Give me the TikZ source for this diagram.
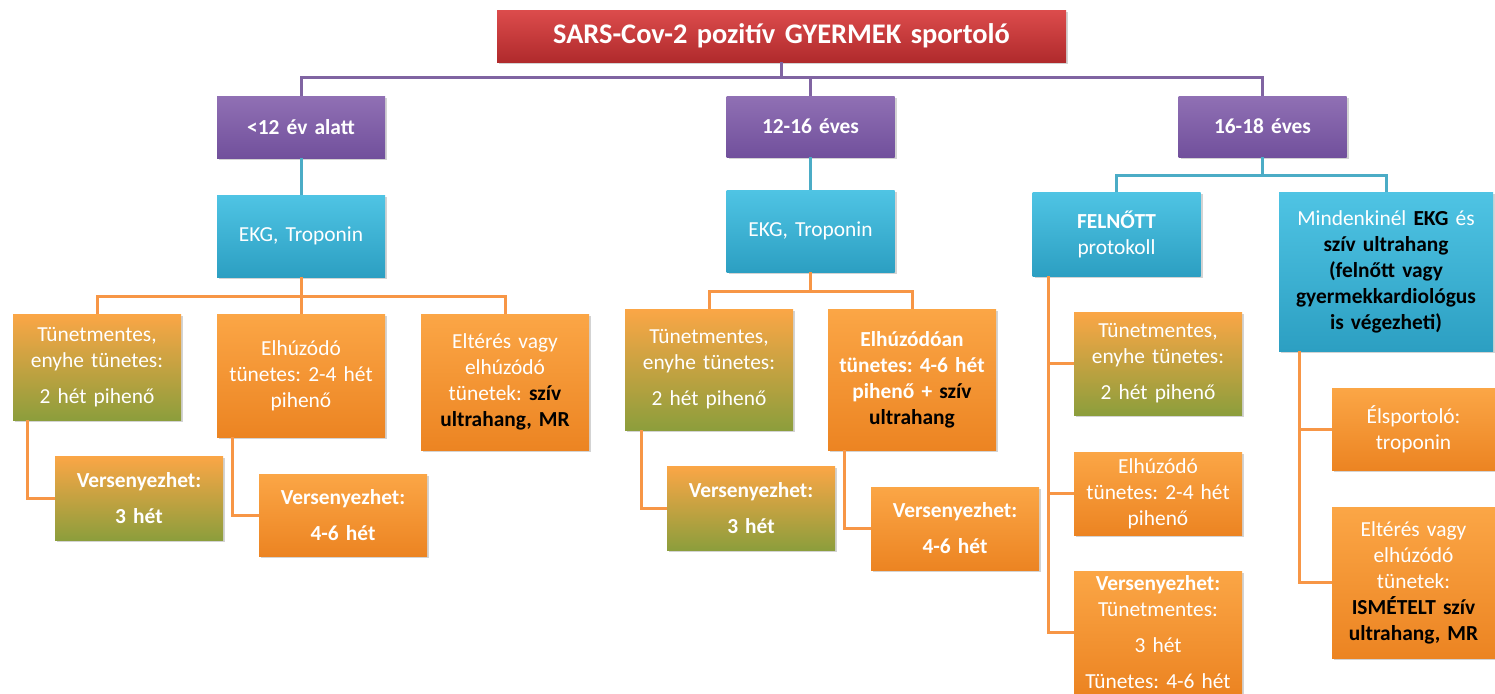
\documentclass[tikz,border=0pt]{standalone}
\usepackage{fontspec}
\setmainfont{Carlito}
\usetikzlibrary{shadows}
\frenchspacing

\definecolor{titletop}{HTML}{DC4C4C}
\definecolor{titlebot}{HTML}{B02A2C}
\definecolor{purptop}{HTML}{9070B4}
\definecolor{purpbot}{HTML}{71509C}
\definecolor{tealtop}{HTML}{4FC4E4}
\definecolor{tealbot}{HTML}{2C9FC2}
\definecolor{orgtop}{HTML}{FBA646}
\definecolor{orgbot}{HTML}{EC8422}
\definecolor{olivebot}{HTML}{8C9E3C}
\definecolor{purpline}{HTML}{8064A2}
\definecolor{tealline}{HTML}{4BACC6}
\definecolor{orgline}{HTML}{F79646}

\newcommand{\darkbf}[1]{\textbf{\textcolor{black}{#1}}}

\begin{document}
\begin{tikzpicture}[
    x=0.5pt, y=-0.5pt,
    box/.style={rectangle, inner sep=0pt, align=center, text=white, text width=80pt, minimum width=84pt,
        font=\fontsize{10.7}{13}\selectfont,
        drop shadow={opacity=0.35, shadow xshift=1.2pt, shadow yshift=-1.2pt}},
    titlebox/.style={box, top color=titletop, bottom color=titlebot, text width=275pt, font=\fontsize{14.2}{16}\selectfont\bfseries},
    agebox/.style={box, top color=purptop, bottom color=purpbot, font=\fontsize{10.7}{13}\selectfont\bfseries},
    testbox/.style={box, top color=tealtop, bottom color=tealbot},
    restbox/.style={box, top color=orgtop, bottom color=orgbot},
    mildbox/.style={box, top color=orgtop, middle color=orgbot!80!olivebot, bottom color=olivebot},
    purpleline/.style={draw=purpline, line width=1.5pt},
    tealconn/.style={draw=tealline, line width=1.5pt},
    orangeline/.style={draw=orgline, line width=1.5pt}
]
    \useasboundingbox (0,0) rectangle (1495,693);

    % Top of the tree
    \node (title) [titlebox, minimum width=284.5pt, minimum height=26pt] at (781.5,36) {SARS-Cov-2 pozitív GYERMEK sportoló};

    % Age groups
    \node (age1) [agebox, minimum height=31pt] at (301,127) {<12 év alatt};
    \node (age2) [agebox, minimum height=30.5pt] at (810.5,126.5) {12-16 éves};
    \node (age3) [agebox, minimum height=30.5pt] at (1262.5,126.5) {16-18 éves};

    \draw [purpleline] (title.south) -- ++(0,15) -| (age1.north);
    \draw [purpleline] (title.south) -- ++(0,15) -| (age2.north);
    \draw [purpleline] (title.south) -- ++(0,15) -| (age3.north);

    % Examinations
    \node (ekg1) [testbox, minimum height=41pt] at (301,236) {EKG, Troponin};
    \node (ekg2) [testbox, minimum height=41pt] at (810.5,231) {EKG, Troponin};
    \node (adult) [testbox, minimum height=42pt] at (1116.5,234) {\textbf{FELNŐTT}\\protokoll};
    \node (echo) [testbox, minimum width=107pt, text width=105pt, minimum height=79.5pt] at (1386,271.5)
        {Mindenkinél \darkbf{EKG} és\\\darkbf{szív ultrahang}\\\darkbf{(felnőtt vagy}\\\darkbf{gyermekkardiológus}\\\darkbf{is végezheti)}};

    \draw [tealconn] (age1.south) -- (ekg1.north);
    \draw [tealconn] (age2.south) -- (ekg2.north);
    \draw [tealconn] (age3.south) -- ++(0,18) -| (adult.north);
    \draw [tealconn] (age3.south) -- ++(0,18) -| (echo.north);

    % Under 12
    \node (mild1) [mildbox, minimum height=53pt] at (97,367) {Tünetmentes,\\enyhe tünetes:\\[5pt]2 hét pihenő};
    \node (long1) [restbox, minimum height=61.5pt] at (301,375.5) {Elhúzódó\\tünetes: 2-4 hét\\pihenő};
    \node (abn1) [restbox, minimum height=68pt] at (505,382) {Eltérés vagy\\elhúzódó\\tünetek: \darkbf{szív}\\\darkbf{ultrahang, MR}};
    \node (comp1a) [mildbox, minimum height=42pt, font=\fontsize{10.7}{13}\selectfont\bfseries] at (139,498) {Versenyezhet:\\[5pt]3 hét};
    \node (comp1b) [restbox, minimum height=41pt, font=\fontsize{10.7}{13}\selectfont\bfseries] at (343,515) {Versenyezhet:\\[5pt]4-6 hét};

    \draw [orangeline] (ekg1.south) -- ++(0,19) -| (mild1.north);
    \draw [orangeline] (ekg1.south) -- ++(0,19) -| (long1.north);
    \draw [orangeline] (ekg1.south) -- ++(0,19) -| (abn1.north);
    \draw [orangeline] ([xshift=7.5pt]mild1.south west) |- (comp1a.west);
    \draw [orangeline] ([xshift=8pt]long1.south west) |- (comp1b.west);

    % 12-16
    \node (mild2) [mildbox, minimum height=60.5pt] at (709,369.5) {Tünetmentes,\\enyhe tünetes:\\[5pt]2 hét pihenő};
    \node (long2) [restbox, minimum height=70.5pt, font=\fontsize{10.7}{13}\selectfont\bfseries] at (912,379.5)
        {Elhúzódóan\\tünetes: 4-6 hét\\pihenő + \textcolor{black}{szív}\\\textcolor{black}{ultrahang}};
    \node (comp2a) [mildbox, minimum height=42pt, font=\fontsize{10.7}{13}\selectfont\bfseries] at (751,508) {Versenyezhet:\\[5pt]3 hét};
    \node (comp2b) [restbox, minimum height=41.5pt, font=\fontsize{10.7}{13}\selectfont\bfseries] at (955,528.5) {Versenyezhet:\\[5pt]4-6 hét};

    \draw [orangeline] (ekg2.south) -- ++(0,19) -| (mild2.north);
    \draw [orangeline] (ekg2.south) -- ++(0,19) -| (long2.north);
    \draw [orangeline] ([xshift=8.5pt]mild2.south west) |- (comp2a.west);
    \draw [orangeline] ([xshift=8.5pt]long2.south west) |- (comp2b.west);

    % 16-18, adult protocol
    \node (mild3) [mildbox, minimum height=51.5pt] at (1158,363.5) {Tünetmentes,\\enyhe tünetes:\\[5pt]2 hét pihenő};
    \node (long3) [restbox, minimum height=41.5pt] at (1158,493.5) {Elhúzódó\\tünetes: 2-4 hét\\pihenő};
    \node (comp3) [restbox, minimum height=61pt] at (1158,632) {\textbf{Versenyezhet:}\\Tünetmentes:\\[5pt]3 hét\\[5pt]Tünetes: 4-6 hét};

    \draw [orangeline] ([xshift=8pt]adult.south west) |- (mild3.west);
    \draw [orangeline] ([xshift=8pt]adult.south west) |- (long3.west);
    \draw [orangeline] ([xshift=8pt]adult.south west) |- (comp3.west);

    % 16-18, echo for everyone
    \node (elite) [restbox, minimum width=81.5pt, text width=79pt, minimum height=41pt] at (1413.5,429) {Élsportoló:\\troponin};
    \node (abn3) [restbox, minimum width=81.5pt, text width=79pt, minimum height=75.5pt] at (1413.5,582.5)
        {Eltérés vagy\\elhúzódó\\tünetek:\\\darkbf{ISMÉTELT szív}\\\darkbf{ultrahang, MR}};

    \draw [orangeline] ([xshift=10.5pt]echo.south west) |- (elite.west);
    \draw [orangeline] ([xshift=10.5pt]echo.south west) |- (abn3.west);

\end{tikzpicture}
\end{document}
